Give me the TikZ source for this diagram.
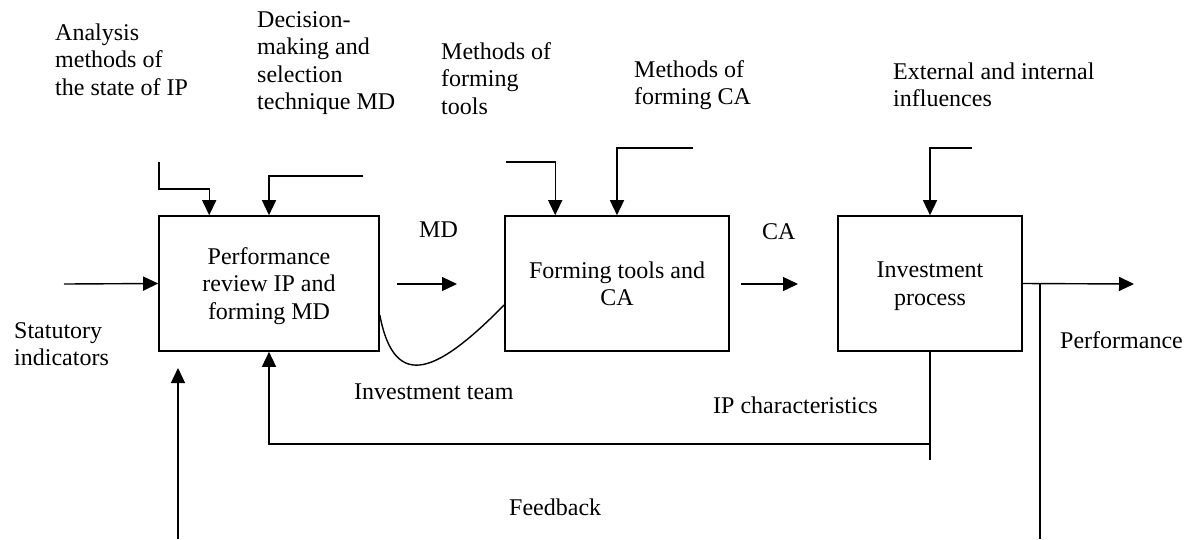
\documentclass[tikz,border=0pt]{standalone}
\usepackage{fontspec}
\setmainfont{Liberation Serif}
\usetikzlibrary{arrows.meta}
\begin{document}
\begin{tikzpicture}[x=1pt,y=-1pt,
            every node/.style={font=\fontsize{24}{27.5}\selectfont,inner sep=0pt},
            block/.style={draw,line width=1.6pt,align=center,text depth=-6pt,minimum height=135pt},
            lbl/.style={anchor=base west,align=left},
            arr/.style={line width=1.4pt,-{Triangle[length=15pt,width=14pt]}},
            line/.style={line width=1.4pt}]
            \useasboundingbox (0,0) rectangle (1190,539);
            \node[block,minimum width=220pt] (perf) at (269,283.5) {Performance\\review IP and\\forming MD};
            \node[block,minimum width=224pt] (tools) at (617,283.5) {Forming tools and\\CA};
            \node[block,minimum width=184pt] (proc) at (930,283.5) {Investment\\process};
            \node[lbl] (anl) at (55,95) {Analysis\\methods of\\the state of IP};
            \node[lbl] (dec) at (257,109.5) {Decision-\\making and\\selection\\technique MD};
            \node[lbl] (mtl) at (441,114) {Methods of\\forming\\tools};
            \node[lbl] (mca) at (634,104.5) {Methods of\\forming CA};
            \node[lbl] (ext) at (893,106.5) {External and internal\\influences};
            \node[lbl] (stat) at (14,365.5) {Statutory\\indicators};
            \node[lbl] (res) at (1060,348) {Performance};
            \node[lbl] (md) at (419,237) {MD};
            \node[lbl] (ca) at (762,239) {CA};
            \node[lbl] (team) at (354,399) {Investment team};
            \node[lbl] (ipc) at (713,413) {IP characteristics};
            \node[lbl] (fb) at (509,515) {Feedback};
            \coordinate (anl in) at (159,162);
            \coordinate (dec in) at (363,176);
            \coordinate (mtl in) at (506,162);
            \coordinate (mca in) at (693,148);
            \coordinate (ext in) at (972,148);
            \coordinate (stat in) at (64,284);
            \coordinate (md a) at (397,284);
            \coordinate (md b) at (457,284);
            \coordinate (ca a) at (741,284);
            \coordinate (ca b) at (798,284);
            \coordinate (res out) at (1134,284);
            \coordinate (res tap) at (1040,284);
            \coordinate (res end) at (1040,539);
            \coordinate (fb end) at (930,460);
            \coordinate (fb turn) at (930,444);
            \coordinate (fb in) at (178,539);
            \coordinate (fb tip) at (178,368);
            \draw[arr] (anl in) -- ++(0,27) -| ([xshift=51pt]perf.north west);
            \draw[arr] (dec in) -| (perf.north);
            \draw[arr] (stat in) -- (perf.west);
            \draw[arr] (mtl in) -| ([xshift=51pt]tools.north west);
            \draw[arr] (mca in) -| (tools.north);
            \draw[arr] (ext in) -| (proc.north);
            \draw[arr] (md a) -- (md b);
            \draw[arr] (ca a) -- (ca b);
            \draw[arr] (proc.east) -- (res out);
            \draw[line] (res tap) -- (res end);
            \draw[line] ([yshift=-31.5pt]perf.east) .. controls (395,395) and (440,370) .. ([yshift=-21.5pt]tools.west);
            \draw[line] (proc.south) -- (fb end);
            \draw[arr] (fb turn) -| (perf.south);
            \draw[arr] (fb in) -- (fb tip);
        \end{tikzpicture}
\end{document}
